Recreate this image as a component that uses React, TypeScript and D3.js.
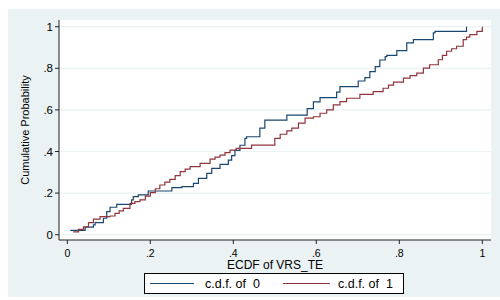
import React from 'react';
import * as d3 from 'd3';

// ECDF step points (value, cumulative probability)
const group0X = [0.007, 0.043, 0.063, 0.067, 0.087, 0.095, 0.103, 0.119, 0.155, 0.159, 0.171, 0.195, 0.252, 0.276, 0.304, 0.316, 0.336, 0.348, 0.368, 0.388, 0.396, 0.404, 0.416, 0.428, 0.432, 0.464, 0.476, 0.529, 0.578, 0.593, 0.609, 0.649, 0.657, 0.701, 0.717, 0.729, 0.742, 0.753, 0.766, 0.770, 0.794, 0.818, 0.834, 0.882, 0.886, 0.962];
const group0P = [0.021, 0.036, 0.047, 0.058, 0.079, 0.111, 0.132, 0.146, 0.167, 0.183, 0.191, 0.210, 0.226, 0.231, 0.247, 0.271, 0.295, 0.319, 0.338, 0.359, 0.380, 0.405, 0.430, 0.463, 0.471, 0.512, 0.551, 0.575, 0.606, 0.639, 0.659, 0.685, 0.712, 0.739, 0.755, 0.784, 0.808, 0.840, 0.856, 0.862, 0.885, 0.922, 0.938, 0.970, 0.978, 1.0];

const group1X = [0.014, 0.027, 0.039, 0.051, 0.063, 0.079, 0.103, 0.115, 0.125, 0.135, 0.151, 0.163, 0.175, 0.188, 0.200, 0.212, 0.223, 0.235, 0.247, 0.260, 0.272, 0.284, 0.296, 0.320, 0.344, 0.356, 0.368, 0.380, 0.392, 0.407, 0.444, 0.500, 0.513, 0.529, 0.541, 0.557, 0.573, 0.593, 0.609, 0.625, 0.641, 0.657, 0.673, 0.705, 0.737, 0.761, 0.774, 0.786, 0.810, 0.826, 0.842, 0.858, 0.873, 0.894, 0.904, 0.914, 0.926, 0.938, 0.954, 0.962, 0.970, 0.987, 1.0];
const group1P = [0.014, 0.026, 0.038, 0.058, 0.075, 0.087, 0.090, 0.103, 0.115, 0.127, 0.151, 0.159, 0.167, 0.185, 0.202, 0.221, 0.239, 0.253, 0.266, 0.284, 0.303, 0.315, 0.327, 0.343, 0.363, 0.373, 0.383, 0.395, 0.407, 0.415, 0.431, 0.463, 0.483, 0.499, 0.512, 0.536, 0.560, 0.567, 0.584, 0.600, 0.624, 0.640, 0.656, 0.675, 0.688, 0.704, 0.719, 0.734, 0.753, 0.765, 0.777, 0.801, 0.817, 0.841, 0.862, 0.882, 0.894, 0.906, 0.938, 0.950, 0.962, 0.978, 1.0];

const xTicks = [0, 0.2, 0.4, 0.6, 0.8, 1];
const yTicks = [0, 0.2, 0.4, 0.6, 0.8, 1];
const seriesLabels = ['c.d.f. of  0', 'c.d.f. of  1'];

const BLUE = '#1a476f';
const RED = '#90353b';
const BG = '#eaf2f3';
const FONT = 'Liberation Sans, Arial, sans-serif';

const fmt = (v: number) => (v === 0 || v === 1 ? String(v) : String(v).replace(/^0/, ''));

export default function App() {
  // plot region (page coordinates)
  const plot = { left: 59, right: 491, top: 20, bottom: 240 };
  const x = d3.scaleLinear().domain([0, 1]).range([67.3, 482.3]);
  const y = d3.scaleLinear().domain([0, 1]).range([234.7, 26.7]);

  const line = d3
    .line<[number, number]>()
    .x(d => x(d[0]))
    .y(d => y(d[1]))
    .curve(d3.curveStepAfter);

  const s0 = group0X.map((v, i) => [v, group0P[i]] as [number, number]);
  const s1 = group1X.map((v, i) => [v, group1P[i]] as [number, number]);

  return (
    <svg
      width={500}
      height={300}
      style={{ position: 'absolute', left: 0, top: 0 }}
      fontFamily={FONT}
    >
      <rect x={8} y={9} width={492} height={288} fill={BG} />
      <rect x={plot.left} y={plot.top} width={plot.right - plot.left} height={plot.bottom - plot.top} fill="#fff" />

      {/* grid */}
      {yTicks.map(t => (
        <line key={'g' + t} x1={plot.left} x2={plot.right} y1={y(t)} y2={y(t)} stroke={BG} strokeWidth={1.2} />
      ))}

      {/* series */}
      <path d={line(s0) || ''} fill="none" stroke={BLUE} strokeWidth={1.2} />
      <path d={line(s1) || ''} fill="none" stroke={RED} strokeWidth={1.2} />

      {/* y axis */}
      <line x1={plot.left} x2={plot.left} y1={plot.top} y2={plot.bottom} stroke="#222" strokeWidth={1} />
      {yTicks.map(t => (
        <g key={'y' + t}>
          <line x1={plot.left - 4} x2={plot.left} y1={y(t)} y2={y(t)} stroke="#222" />
          <text x={plot.left - 6} y={y(t)} dy="0.35em" textAnchor="end" fontSize={11.5} fill="#000">
            {fmt(t)}
          </text>
        </g>
      ))}
      <text
        transform={`translate(29,${(plot.top + plot.bottom) / 2}) rotate(-90)`}
        textAnchor="middle"
        fontSize={11}
        fill="#000"
      >
        Cumulative Probability
      </text>

      {/* x axis */}
      <line x1={plot.left} x2={plot.right} y1={plot.bottom} y2={plot.bottom} stroke="#222" strokeWidth={1} />
      {xTicks.map(t => (
        <g key={'x' + t}>
          <line x1={x(t)} x2={x(t)} y1={plot.bottom} y2={plot.bottom + 4} stroke="#222" />
          <text x={x(t)} y={256.5} textAnchor="middle" fontSize={10.5} fill="#000">
            {fmt(t)}
          </text>
        </g>
      ))}
      <text x={(plot.left + plot.right) / 2} y={268.5} textAnchor="middle" fontSize={12} fill="#000">
        ECDF of VRS_TE
      </text>

      {/* legend */}
      <rect x={144.5} y={273.5} width={259} height={20} fill="#fff" stroke="#000" strokeWidth={1} />
      <line x1={150} x2={194} y1={283.5} y2={283.5} stroke={BLUE} strokeWidth={1.2} />
      <text x={205} y={283.5} dy="0.35em" fontSize={12.5} fill="#000" style={{ whiteSpace: 'pre' }}>
        {seriesLabels[0]}
      </text>
      <line x1={283} x2={330} y1={283.5} y2={283.5} stroke={RED} strokeWidth={1.2} />
      <text x={338} y={283.5} dy="0.35em" fontSize={12.5} fill="#000" style={{ whiteSpace: 'pre' }}>
        {seriesLabels[1]}
      </text>
    </svg>
  );
}
